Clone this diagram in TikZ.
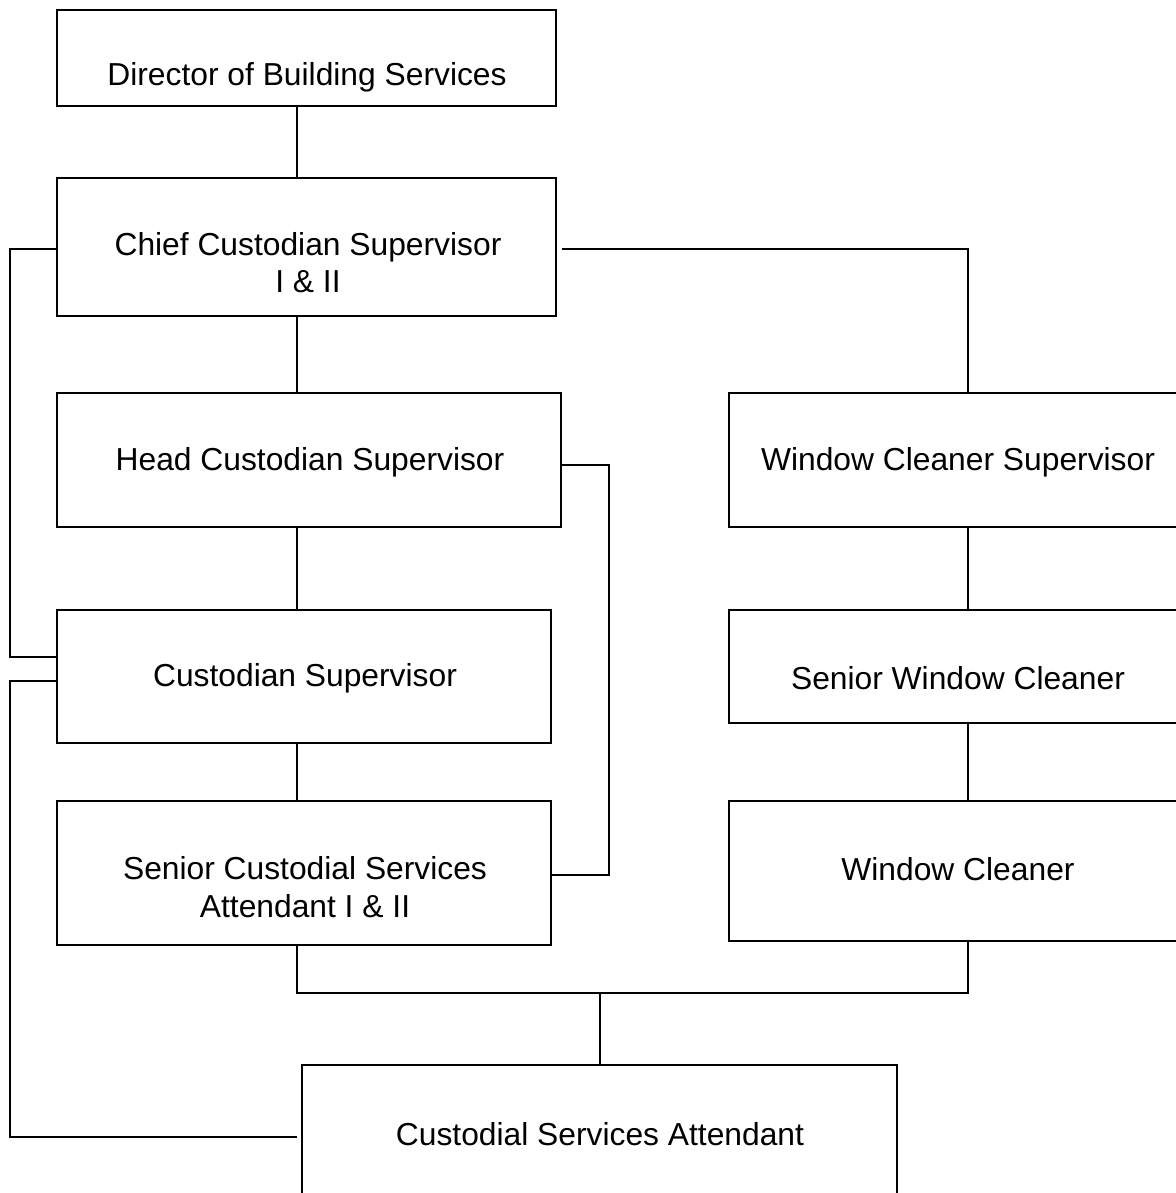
\documentclass[tikz,border=0pt]{standalone}
\usepackage{fontspec}
\setmainfont{Liberation Sans}
\usepackage{tikz}
\usetikzlibrary{calc}

\begin{document}
\begin{tikzpicture}[x=0.025cm, y=-0.025cm, line width=1.4pt,
    box/.style={shape=rectangle, draw, inner sep=0pt},
    lbl/.style={align=center, inner sep=0pt, font=\fontsize{22.6}{26.5}\selectfont}]
    \path[use as bounding box, clip] (0,0) rectangle (1176,1193);
    % boxes
    \node[box, minimum width=12.475cm, minimum height=2.4cm] (dir) at (306.5,58) {};
    \node[box, minimum width=12.475cm, minimum height=3.45cm] (chief) at (306.5,247) {};
    \node[box, minimum width=12.6cm, minimum height=3.35cm] (head) at (309,460) {};
    \node[box, minimum width=12.35cm, minimum height=3.325cm] (cs) at (304,676.5) {};
    \node[box, minimum width=12.35cm, minimum height=3.6cm] (scsa) at (304,873) {};
    \node[box, minimum width=14.875cm, minimum height=3.4cm] (csa) at (599.5,1133) {};
    \node[box, minimum width=11.45cm, minimum height=3.35cm] (wcs) at (958,460) {};
    \node[box, minimum width=11.45cm, minimum height=2.825cm] (swc) at (958,666.5) {};
    \node[box, minimum width=11.45cm, minimum height=3.5cm] (wc) at (958,871) {};
    % texts
    \node[lbl] (dirtxt) at (307,77) {Director of Building Services};
    \node[lbl] (chieftxt) at (308,263) {Chief Custodian Supervisor\\ I \& II};
    \node[lbl] (headtxt) at (310,462) {Head Custodian Supervisor};
    \node[lbl] (cstxt) at (305,678) {Custodian Supervisor};
    \node[lbl] (scsatxt) at (305,887) {Senior Custodial Services\\Attendant I \& II};
    \node[lbl] (csatxt) at (600,1134) {Custodial Services Attendant};
    \node[lbl] (wcstxt) at (958,462) {Window Cleaner Supervisor};
    \node[lbl] (swctxt) at (958,678) {Senior Window Cleaner};
    \node[lbl] (wctxt) at (958,869) {Window Cleaner};
    % columns and turning points of the lines
    \coordinate (lx) at (10,0);
    \coordinate (mx) at (297,0);
    \coordinate (hx) at (609,0);
    \coordinate (rx) at (968,0);
    \coordinate (join) at (600,993);
    \coordinate (chiefout) at ($(chief.west)+(0,2)$);
    \coordinate (chiefoutr) at ($(chief.east)+(5,2)$);
    \coordinate (csin) at ($(cs.west)+(0,-19.5)$);
    \coordinate (csout) at ($(cs.west)+(0,4.5)$);
    \coordinate (csain) at ($(csa.west)+(-4,4)$);
    \coordinate (headout) at ($(head.east)+(0,5)$);
    \coordinate (scsain) at ($(scsa.east)+(0,2)$);
    % lines
    \draw (dir.south -| mx) -- (chief.north -| mx);
    \draw (chief.south -| mx) -- (head.north -| mx);
    \draw (head.south -| mx) -- (cs.north -| mx);
    \draw (cs.south -| mx) -- (scsa.north -| mx);
    \draw (wcs.south -| rx) -- (swc.north -| rx);
    \draw (swc.south -| rx) -- (wc.north -| rx);
    \draw (chiefout) -| (lx |- csin) -- (csin);
    \draw (csout) -| (lx |- csain) -- (csain);
    \draw (chiefoutr) -| (wcs.north -| rx);
    \draw (headout) -| (hx |- scsain) -- (scsain);
    \draw (scsa.south -| mx) |- (join) -| (wc.south -| rx);
    \draw (join) -- (join |- csa.north);
\end{tikzpicture}
\end{document}
